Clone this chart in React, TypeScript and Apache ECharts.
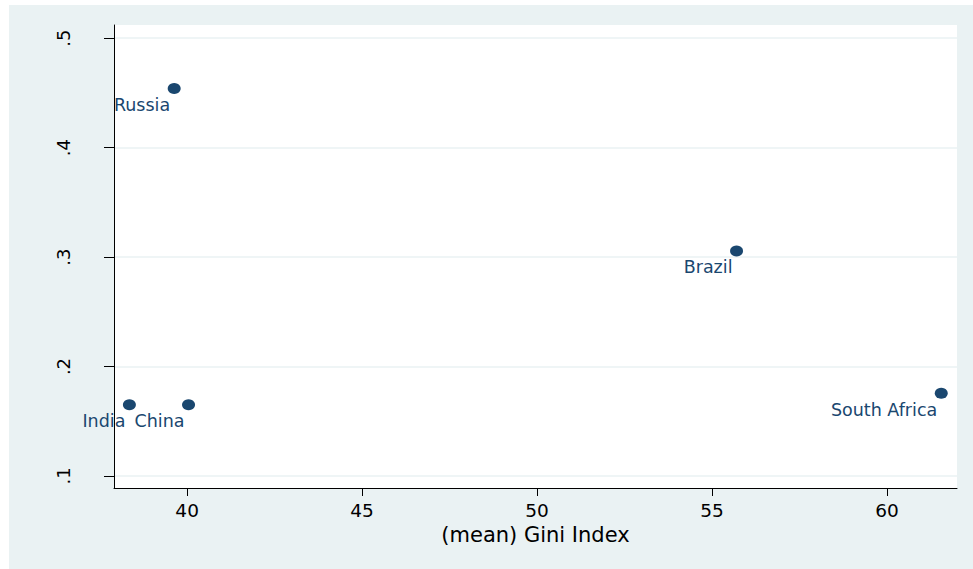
import React, { useEffect, useRef } from "react";
import * as echarts from "echarts";

const countries = ["Russia", "India", "China", "Brazil", "South Africa"];
const giniIndex = [39.63, 38.35, 40.04, 55.7, 61.55];
const yValues = [0.454, 0.165, 0.165, 0.3056, 0.1756];
const xTicks = [40, 45, 50, 55, 60];
const yTicks = [0.1, 0.2, 0.3, 0.4, 0.5];
const xTitle = "(mean) Gini Index";

const NAVY = "#1a476f";
const PANEL = "#eaf2f3";
const FONT = "DejaVu Sans";

export default function App() {
  const ref = useRef<HTMLDivElement>(null);
  useEffect(() => {
    if (!ref.current) return;
    const chart = echarts.init(ref.current, undefined, { renderer: "svg" });
    const data = countries.map((c, i) => ({ name: c, value: [giniIndex[i], yValues[i]] }));
    chart.setOption({
      animation: false,
      backgroundColor: "#ffffff",
      graphic: {
        elements: [
          {
            type: "rect",
            z: -10,
            shape: { x: 9, y: 5, width: 964, height: 564 },
            style: { fill: PANEL },
            silent: true,
          },
        ],
      },
      grid: {
        left: 114,
        top: 25,
        right: 16,
        bottom: 81,
        show: true,
        backgroundColor: "#ffffff",
        borderWidth: 0,
      },
      xAxis: {
        type: "value",
        min: 37.91,
        max: 62,
        name: xTitle,
        nameLocation: "middle",
        nameGap: 34,
        nameTextStyle: { fontFamily: FONT, fontSize: 21, color: "#000" },
        axisLine: { show: true, onZero: false, lineStyle: { color: "#000", width: 1 } },
        axisTick: { show: true, inside: false, length: 8, customValues: xTicks, lineStyle: { color: "#000" } },
        axisLabel: {
          customValues: xTicks,
          fontFamily: FONT,
          fontSize: 18.5,
          color: "#000",
          margin: 13,
        },
        splitLine: { show: false },
      },
      yAxis: {
        type: "value",
        min: 0.089,
        max: 0.512,
        axisLine: { show: true, onZero: false, lineStyle: { color: "#000", width: 1 } },
        axisTick: { show: true, inside: false, length: 10, customValues: yTicks, lineStyle: { color: "#000" } },
        axisLabel: {
          customValues: yTicks,
          rotate: 90,
          fontFamily: FONT,
          fontSize: 18,
          color: "#000",
          margin: 42,
          formatter: (v: number) => v.toFixed(1).replace(/^0/, ""),
        },
        splitLine: { show: true, lineStyle: { color: PANEL, width: 1.5 } },
      },
      series: [
        {
          type: "scatter",
          data,
          symbol: "circle",
          symbolSize: [13, 11],
          itemStyle: { color: NAVY, opacity: 1 },
          label: {
            show: true,
            position: "left",
            distance: 0,
            offset: [2.5, 16.5],
            formatter: (p: any) => p.name,
            fontFamily: FONT,
            fontSize: 17.5,
            color: NAVY,
          },
        },
      ],
    });
    return () => chart.dispose();
  }, []);
  return (
    <div
      ref={ref}
      style={{ position: "absolute", left: 0, top: 0, width: 973, height: 569 }}
    />
  );
}
